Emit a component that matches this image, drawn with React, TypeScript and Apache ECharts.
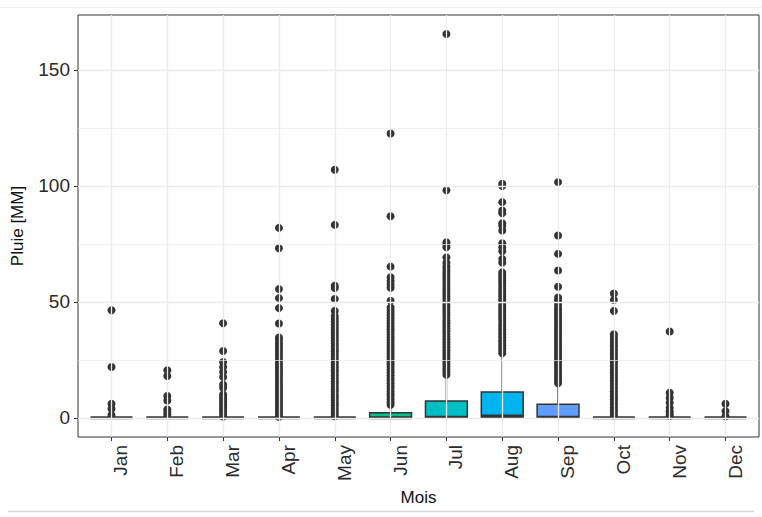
import React, { useEffect, useRef } from "react";
import * as echarts from "echarts";

const months = ["Jan", "Feb", "Mar", "Apr", "May", "Jun", "Jul", "Aug", "Sep", "Oct", "Nov", "Dec"];
const boxColors = ["#F8766D", "#DE8C00", "#B79F00", "#7CAE00", "#00BA38", "#00C08B", "#00BFC4", "#00B4F0", "#619CFF", "#C77CFF", "#F564E3", "#FF64B0"];

const lowerWhisker = [0, 0, 0, 0, 0, 0, 0, 0, 0, 0, 0, 0];
const q1 = [0, 0, 0, 0, 0, 0, 0, 0, 0, 0, 0, 0];
const median = [0, 0, 0, 0, 0, 0, 0.3, 0.8, 0.2, 0, 0, 0];
const q3 = [0, 0, 0, 0, 0, 2.2, 7.2, 11.1, 5.8, 0, 0, 0];
const upperWhisker = [0, 0, 0, 0, 0, 5.0, 17.4, 26.5, 13.8, 0, 0, 0];

const janOutliers = [46.4, 21.9, 6.1, 3.9, 1.2];
const febOutliers = [20.5, 18.0, 9.4, 7.5, 3.6, 2.5, 1.4];
const marOutliers = [40.8, 28.8, 24.1, 21.9, 19.8, 17.6, 14.4, 13.0, 10.1, 9.0, 8.1, 7.0, 5.9, 4.8, 3.9, 2.8, 1.7, 0.6];
const aprOutliers = [81.9, 73.1, 55.5, 51.6, 47.3, 40.7, 34.6, 33.5, 32.2, 31.1, 29.8, 28.6, 27.4, 26.3, 25.0, 23.8, 22.7, 21.5, 20.2, 19.1, 17.9, 16.6, 15.5, 14.3, 13.2, 11.9, 10.8, 9.6, 8.4, 7.3, 6.1, 4.9, 3.8, 2.6, 1.5, 0.4];
const mayOutliers = [107.0, 83.2, 57.0, 56.0, 51.2, 46.1, 43.9, 42.7, 41.5, 40.3, 39.2, 38.0, 36.8, 35.7, 34.5, 33.3, 32.1, 31.0, 29.8, 28.7, 27.5, 26.3, 25.2, 24.0, 22.8, 21.7, 20.5, 19.3, 18.2, 17.0, 15.8, 14.7, 13.5, 12.3, 11.2, 10.0, 8.9, 7.7, 6.5, 5.4, 4.2, 3.0, 1.9, 0.7];
const junOutliers = [122.6, 86.9, 65.2, 60.6, 59.0, 57.5, 56.1, 50.5, 47.6, 46.4, 45.2, 44.1, 42.9, 41.7, 40.6, 39.4, 38.2, 37.1, 35.9, 34.7, 33.6, 32.4, 31.2, 30.1, 28.9, 27.7, 26.6, 25.4, 24.2, 23.1, 21.9, 20.7, 19.6, 18.4, 17.2, 16.1, 14.9, 13.7, 12.6, 11.4, 10.2, 9.1, 7.9, 6.7, 5.6];
const julOutliers = [165.5, 98.1, 75.7, 74.6, 73.5, 69.2, 66.9, 65.3, 64.1, 62.9, 61.8, 60.6, 59.4, 58.3, 57.1, 55.9, 54.8, 53.6, 52.4, 51.3, 50.1, 48.9, 47.8, 46.6, 45.4, 44.3, 43.1, 41.9, 40.8, 39.6, 38.4, 37.3, 36.1, 34.9, 33.8, 32.6, 31.4, 30.3, 29.1, 27.9, 26.8, 25.6, 24.4, 23.3, 22.1, 20.9, 19.8, 18.6];
const augOutliers = [100.9, 99.9, 93.0, 89.4, 88.2, 83.9, 82.9, 80.8, 75.3, 73.5, 71.8, 68.5, 67.0, 62.7, 61.5, 60.4, 59.2, 58.0, 56.9, 55.7, 54.5, 53.4, 52.2, 51.0, 49.9, 48.7, 47.5, 46.4, 45.2, 44.0, 42.9, 41.7, 40.5, 39.4, 38.2, 37.0, 35.9, 34.7, 33.5, 32.4, 31.2, 30.0, 28.9, 27.8];
const sepOutliers = [101.6, 78.6, 70.7, 63.5, 56.5, 51.9, 50.6, 49.0, 47.6, 46.4, 45.2, 44.1, 42.9, 41.7, 40.6, 39.4, 38.2, 37.1, 35.9, 34.7, 33.6, 32.4, 31.2, 30.1, 28.9, 27.7, 26.6, 25.4, 24.2, 23.1, 21.9, 20.7, 19.6, 18.4, 17.2, 16.1, 14.9];
const octOutliers = [53.6, 50.8, 46.1, 36.0, 34.8, 33.7, 32.5, 31.3, 30.2, 29.0, 27.8, 26.7, 25.5, 24.3, 23.2, 22.0, 20.8, 19.7, 18.5, 17.3, 16.2, 15.0, 13.8, 12.7, 11.5, 10.3, 9.2, 8.0, 6.8, 5.7, 4.5, 3.3, 2.2, 1.0];
const novOutliers = [37.2, 10.8, 8.7, 6.5, 4.3, 2.8, 1.7, 0.8];
const decOutliers = [6.1, 2.9, 0.7];

const outliersByMonth = [janOutliers, febOutliers, marOutliers, aprOutliers, mayOutliers, junOutliers, julOutliers, augOutliers, sepOutliers, octOutliers, novOutliers, decOutliers];

const yMajorTicks = [0, 50, 100, 150];
const yMinorTicks = [25, 75, 125];
const monthPositions = months.map((_, i) => i + 1);

const FONT = "'Liberation Sans', Arial, Helvetica, sans-serif";
const EDGE = "#333333";

export default function App() {
  const ref = useRef<HTMLDivElement>(null);

  useEffect(() => {
    const chart = echarts.init(ref.current!, null, { renderer: "svg" });

    const boxData = months.map((_, i) => [i + 1, lowerWhisker[i], q1[i], median[i], q3[i], upperWhisker[i], i]);
    const outlierData = outliersByMonth.flatMap((arr, i) => arr.map((v) => [i + 1, v]));

    const gridLines: any[] = [
      ...yMinorTicks.map((v) => ({ yAxis: v, lineStyle: { width: 0.7 } })),
      ...yMajorTicks.map((v) => ({ yAxis: v, lineStyle: { width: 1.3 } })),
      ...monthPositions.map((v) => ({ xAxis: v, lineStyle: { width: 1.3 } })),
    ];

    const option: any = {
      animation: false,
      backgroundColor: "#ffffff",
      textStyle: { fontFamily: FONT },
      graphic: [
        { type: "line", shape: { x1: 0, y1: 7.5, x2: 762, y2: 7.5 }, style: { stroke: "#f0f0f0", lineWidth: 1 }, silent: true },
        { type: "line", shape: { x1: 8, y1: 511.5, x2: 754, y2: 511.5 }, style: { stroke: "#d6d6d6", lineWidth: 1.5 }, silent: true },
      ],
      grid: {
        left: 78,
        right: 3,
        top: 15,
        bottom: 80,
        show: true,
        borderColor: EDGE,
        borderWidth: 1,
        backgroundColor: "#ffffff",
        z: 0,
      },
      xAxis: {
        type: "value",
        min: 0.4,
        max: 12.6,
        splitLine: { show: false },
        axisLine: { show: false, onZero: false },
        axisTick: { show: true, customValues: monthPositions, length: 4, inside: false, lineStyle: { color: EDGE, width: 1 } },
        axisLabel: {
          customValues: monthPositions,
          formatter: (v: number) => months[Math.round(v) - 1] ?? "",
          rotate: 90,
          verticalAlign: "top",
          align: "right",
          margin: 8,
          fontSize: 19,
          color: "#2b2b2b",
          fontFamily: FONT,
        },
        name: "Mois",
        nameLocation: "middle",
        nameGap: 50,
        nameTextStyle: { fontSize: 17, color: "#111111", fontFamily: FONT },
      },
      yAxis: {
        type: "value",
        min: -8.27,
        max: 173.7,
        splitLine: { show: false },
        axisLine: { show: false, onZero: false },
        axisTick: { show: true, customValues: yMajorTicks, length: 4, inside: false, lineStyle: { color: EDGE, width: 1 } },
        axisLabel: {
          customValues: yMajorTicks,
          margin: 8,
          fontSize: 19,
          color: "#2b2b2b",
          fontFamily: FONT,
        },
        name: "Pluie [MM]",
        nameLocation: "middle",
        nameGap: 52,
        nameTextStyle: { fontSize: 17, color: "#111111", fontFamily: FONT },
      },
      series: [
        {
          type: "scatter",
          name: "grid",
          z: 1,
          silent: true,
          symbolSize: 0,
          data: [[1, 0]],
          itemStyle: { opacity: 0 },
          markLine: {
            silent: true,
            symbol: ["none", "none"],
            label: { show: false },
            emphasis: { disabled: true },
            lineStyle: { color: "#EBEBEB", type: "solid", width: 1 },
            data: gridLines,
          },
        },
        {
          type: "scatter",
          name: "outliers",
          z: 2,
          silent: true,
          symbol: "circle",
          symbolSize: 8,
          itemStyle: { color: "#333333", opacity: 1 },
          data: outlierData,
        },
        {
          type: "custom",
          name: "boxes",
          z: 3,
          silent: true,
          encode: { x: 0, y: [1, 5] },
          data: boxData,
          renderItem: (_params: any, api: any) => {
            const x = api.value(0);
            const lo = api.value(1);
            const a = api.value(2);
            const md = api.value(3);
            const b = api.value(4);
            const hi = api.value(5);
            const idx = api.value(6);
            const w = api.size([0.75, 0])[0];
            const pHi = api.coord([x, hi]);
            const pB = api.coord([x, b]);
            const pA = api.coord([x, a]);
            const pLo = api.coord([x, lo]);
            const pMd = api.coord([x, md]);
            const children: any[] = [];
            if (hi > b) {
              children.push({ type: "line", shape: { x1: pB[0], y1: pB[1], x2: pHi[0], y2: pHi[1] }, style: { stroke: EDGE, lineWidth: 1.5 } });
            }
            if (lo < a) {
              children.push({ type: "line", shape: { x1: pA[0], y1: pA[1], x2: pLo[0], y2: pLo[1] }, style: { stroke: EDGE, lineWidth: 1.5 } });
            }
            children.push({
              type: "rect",
              shape: { x: pB[0] - w / 2, y: pB[1], width: w, height: pA[1] - pB[1] },
              style: { fill: boxColors[idx], stroke: EDGE, lineWidth: 1.5 },
            });
            children.push({
              type: "line",
              shape: { x1: pMd[0] - w / 2, y1: pMd[1], x2: pMd[0] + w / 2, y2: pMd[1] },
              style: { stroke: EDGE, lineWidth: 3 },
            });
            return { type: "group", children };
          },
        },
      ],
    };

    chart.setOption(option);
    return () => chart.dispose();
  }, []);

  return (
    <div
      ref={ref}
      style={{ position: "fixed", left: 0, top: 0, width: 762, height: 517, background: "#ffffff" }}
    />
  );
}
